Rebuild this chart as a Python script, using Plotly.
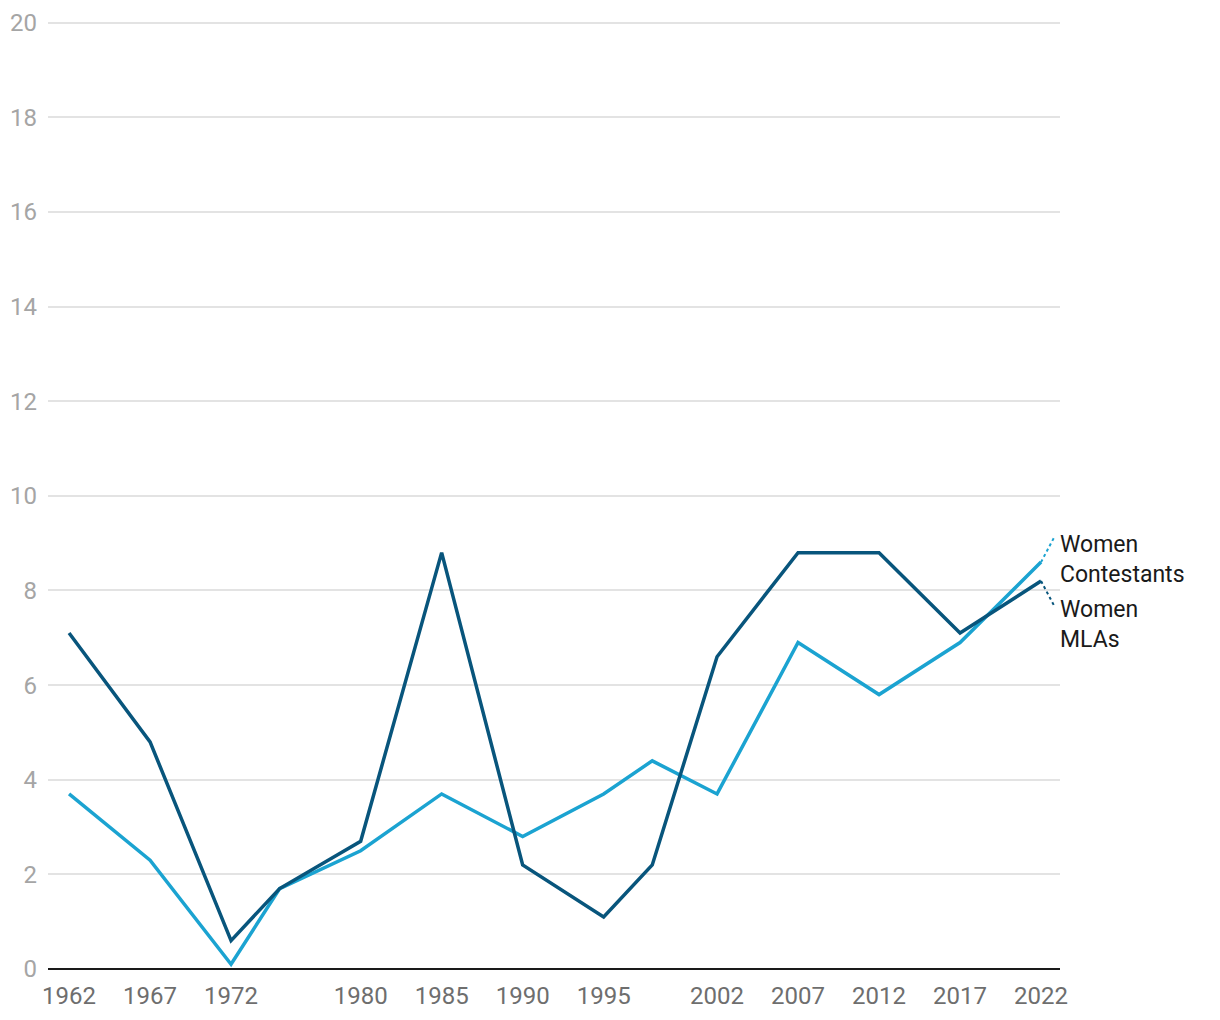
import plotly.graph_objects as go

years = [1962, 1967, 1972, 1975, 1980, 1985, 1990, 1995, 1998, 2002, 2007, 2012, 2017, 2022]
women_mlas = [7.1, 4.8, 0.6, 1.7, 2.7, 8.8, 2.2, 1.1, 2.2, 6.6, 8.8, 8.8, 7.1, 8.2]
women_contestants = [3.7, 2.3, 0.1, 1.7, 2.5, 3.7, 2.8, 3.7, 4.4, 3.7, 6.9, 5.8, 6.9, 8.6]
tick_years = [1962, 1967, 1972, 1980, 1985, 1990, 1995, 2002, 2007, 2012, 2017, 2022]
y_ticks = [0, 2, 4, 6, 8, 10, 12, 14, 16, 18, 20]

dark = "#08557c"
light = "#1ba3d1"

fig = go.Figure()
fig.add_trace(go.Scatter(x=years, y=women_contestants, mode="lines",
                         line=dict(color=light, width=3.5), name="Women Contestants"))
fig.add_trace(go.Scatter(x=years, y=women_mlas, mode="lines",
                         line=dict(color=dark, width=3.5), name="Women MLAs"))

# dotted connectors to labels
x_end = years[-1]
fig.add_shape(type="line", x0=x_end, y0=women_contestants[-1], x1=x_end + 0.85, y1=women_contestants[-1] + 0.55,
              line=dict(color=light, width=2, dash="dot"))
fig.add_shape(type="line", x0=x_end, y0=women_mlas[-1], x1=x_end + 0.85, y1=women_mlas[-1] - 0.55,
              line=dict(color=dark, width=2, dash="dot"))

fig.add_annotation(x=1, xref="paper", y=women_contestants[-1] + 0.06, yref="y",
                   text="Women<br>Contestants", showarrow=False, xanchor="left", yanchor="middle",
                   align="left", xshift=-2, font=dict(family="Roboto", size=23, color="#1a1a1a"))
fig.add_annotation(x=1, xref="paper", y=women_mlas[-1] - 0.92, yref="y",
                   text="Women<br>MLAs", showarrow=False, xanchor="left", yanchor="middle",
                   align="left", xshift=-2, font=dict(family="Roboto", size=23, color="#1a1a1a"))

fig.update_layout(
    width=1220, height=1020,
    margin=dict(l=48, r=160, t=18, b=51),
    paper_bgcolor="white", plot_bgcolor="white",
    showlegend=False,
    font=dict(family="Roboto"),
    xaxis=dict(range=[1960.7, 2023.17], tickvals=tick_years, ticktext=[str(t) for t in tick_years],
               showgrid=False, zeroline=False, showline=False, ticks="", automargin=False,
               tickfont=dict(size=24, color="#6e6e6e"), ticklabelstandoff=10),
    yaxis=dict(range=[0, 20.1], tickvals=y_ticks, showgrid=True, gridcolor="#e3e3e3", gridwidth=1.5,
               zeroline=True, zerolinecolor="#1a1a1a", zerolinewidth=2, showline=False, ticks="",
               automargin=False,
               tickfont=dict(size=24, color="#a5a5a5"), ticklabelstandoff=10),
)

fig.write_html("out.html", config={"displayModeBar": False},
               post_script="document.body.style.margin='0';")
